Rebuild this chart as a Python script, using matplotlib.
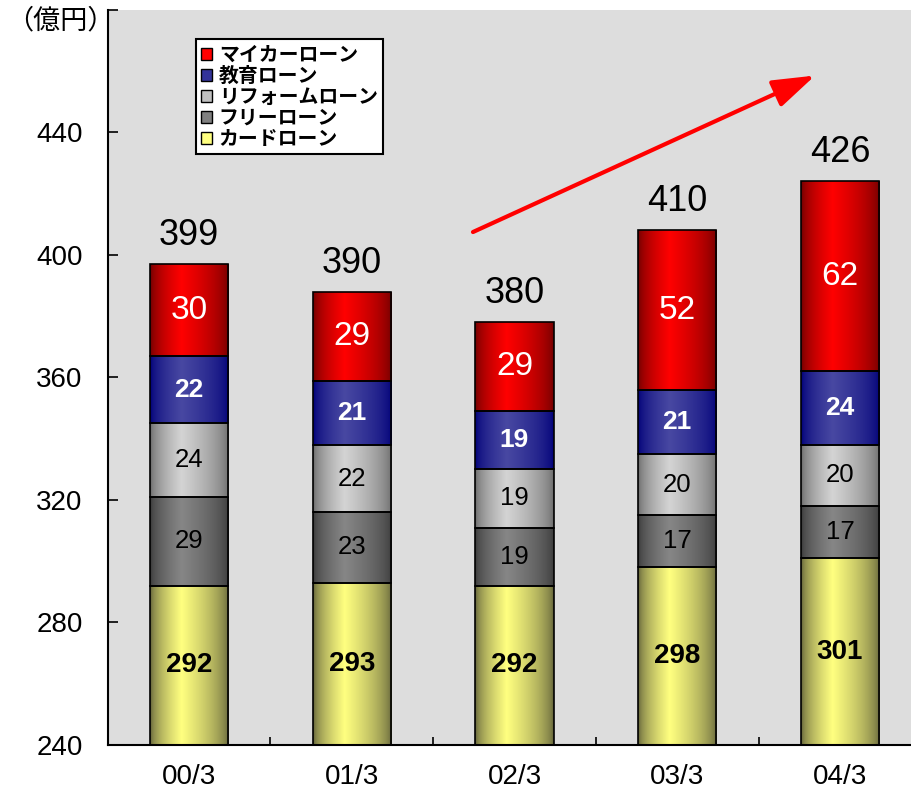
import matplotlib
matplotlib.use("Agg")
import matplotlib.pyplot as plt
import numpy as np
from matplotlib.colors import to_rgb
from matplotlib.patches import Patch

plt.rcParams['font.family'] = ['Liberation Sans', 'Noto Sans CJK JP', 'DejaVu Sans']

# データ（億円）
categories = ['00/3', '01/3', '02/3', '03/3', '04/3']
card_loan = [292, 293, 292, 298, 301]      # カードローン
free_loan = [29, 23, 19, 17, 17]           # フリーローン
reform_loan = [24, 22, 19, 20, 20]         # リフォームローン
edu_loan = [22, 21, 19, 21, 24]            # 教育ローン
car_loan = [30, 29, 29, 52, 62]            # マイカーローン
totals = [399, 390, 380, 410, 426]

series = [
    ('カードローン', card_loan, '#62623a', '#ffff80', 'black', 'bold', 20),
    ('フリーローン', free_loan, '#3a3a3a', '#868686', 'black', 'normal', 18.5),
    ('リフォームローン', reform_loan, '#6a6a6a', '#d4d4d4', 'black', 'normal', 18.5),
    ('教育ローン', edu_loan, '#000078', '#4848a2', 'white', 'bold', 19),
    ('マイカーローン', car_loan, '#6e0000', '#ff0000', 'white', 'normal', 24),
]
legend_colors = ['#ff0000', '#333399', '#c0c0c0', '#808080', '#ffff80']

bar_w = 0.48


def cylinder(edge, center, n=64):
    # 横方向のグラデーション（円柱風）
    t = np.linspace(0, 1, n)
    f = np.where(t < 0.4, (t / 0.4) ** 0.6, ((1 - t) / 0.6) ** 0.6)
    e = np.array(to_rgb(edge))
    c = np.array(to_rgb(center))
    return (e + (c - e) * f[:, None])[None, :, :]


fig = plt.figure(figsize=(9.12, 7.93), dpi=100)
ax = fig.add_axes([107.6 / 912, 48 / 793, 813.75 / 912, 735 / 793])
ax.set_facecolor('#dddddd')

x = np.arange(len(categories))
bottom = np.full(len(categories), 0.0)
for name, vals, edge, center, tcol, tw, fs in series:
    vals = np.array(vals, dtype=float)
    img = cylinder(edge, center)
    for i in range(len(categories)):
        y0 = max(bottom[i], 240)
        y1 = bottom[i] + vals[i]
        ax.imshow(img, extent=[x[i] - bar_w / 2, x[i] + bar_w / 2, y0, y1],
                  aspect='auto', interpolation='bilinear', zorder=2)
        ax.text(x[i], (y0 + y1) / 2, f'{int(vals[i])}', ha='center', va='center',
                color=tcol, fontweight=tw, fontsize=fs, zorder=4)
    ax.bar(x, vals, bar_w, bottom=bottom, fill=False, edgecolor='black',
           linewidth=1.2, zorder=3)
    bottom += vals

for i, tot in enumerate(totals):
    ax.annotate(f'{tot}', (x[i], bottom[i]), xytext=(0, 8), textcoords='offset points',
                ha='center', va='bottom', fontsize=26, zorder=4)

# 増加傾向の矢印
ax.annotate('', xy=(3.847, 458.6), xytext=(1.745, 407.5),
            arrowprops=dict(arrowstyle='-|>,head_length=1.3,head_width=0.43',
                            color='red', lw=3, mutation_scale=20,
                            shrinkA=0, shrinkB=0), zorder=5)

ax.set_xlim(-0.5, 4.5)
ax.set_ylim(240, 480)
ax.set_yticks([240, 280, 320, 360, 400, 440, 480])
ax.set_yticklabels(['240', '280', '320', '360', '400', '440', ''], fontsize=20)
ax.set_xticks(x)
ax.set_xticklabels(categories, fontsize=20)
ax.set_xticks(np.arange(0.5, 4.5, 1), minor=True)
ax.tick_params(axis='x', which='major', length=0, pad=14)
ax.tick_params(axis='x', which='minor', direction='in', length=6, width=1.2)
ax.tick_params(axis='y', direction='in', length=7, width=1.2, pad=18)
for s in ['top', 'right']:
    ax.spines[s].set_visible(False)
for s in ['left', 'bottom']:
    ax.spines[s].set_linewidth(1.5)

# 単位
fig.text(6 / 912, 1 - 21 / 793, '（億円）', ha='left', va='center', fontsize=19.5,
         family=['Noto Sans CJK JP'])

handles = [Patch(facecolor=c, edgecolor='black', label=s[0])
           for c, s in zip(legend_colors, reversed(series))]
leg = ax.legend(handles=handles, loc='upper left', bbox_to_anchor=(0.1086, 0.9605),
                borderaxespad=0, fancybox=False, framealpha=1, edgecolor='black',
                prop={'family': ['Noto Sans CJK JP'], 'weight': 'bold', 'size': 14.3},
                handlelength=0.55, handleheight=0.55, handletextpad=0.35,
                labelspacing=0.0, borderpad=0.25)
leg.get_frame().set_linewidth(1.5)
leg.set_zorder(6)

fig.savefig('out.png', dpi=100)
